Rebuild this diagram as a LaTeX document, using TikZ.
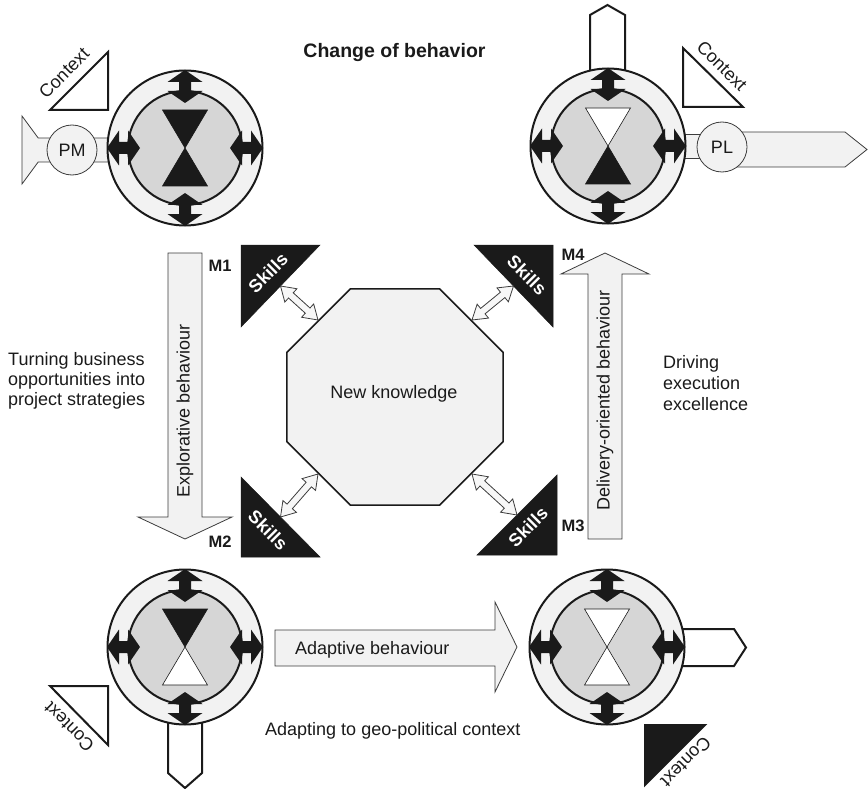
\documentclass[tikz,border=0pt]{standalone}
\usepackage{fontspec}
\setmainfont{Liberation Sans}
\usetikzlibrary{calc,shapes.geometric}
\definecolor{ink}{HTML}{1A1A1A}
\definecolor{pale}{HTML}{F2F2F2}
\definecolor{hub}{HTML}{D6D6D6}

% hollow two-headed link between two named points
\newcommand\hollowlink[2]{%
  \coordinate (h1) at ($(#1)!14pt!(#2)$);
  \coordinate (h2) at ($(#2)!14pt!(#1)$);
  \filldraw[linkstyle] (#1) -- ($(h1)!9pt!90:(#2)$) -- ($(h1)!3.5pt!90:(#2)$)
    -- ($(h2)!3.5pt!-90:(#1)$) -- ($(h2)!9pt!-90:(#1)$) -- (#2)
    -- ($(h2)!9pt!90:(#1)$) -- ($(h2)!3.5pt!90:(#1)$)
    -- ($(h1)!3.5pt!-90:(#2)$) -- ($(h1)!9pt!-90:(#2)$) -- cycle;}

\tikzset{
  pics/wheel/.style 2 args={code={
    \filldraw[fill=pale, draw=ink, line width=2pt] (0,0) circle [radius=77.5pt];
    \filldraw[fill=hub, draw=ink, line width=2pt] (0,0) circle [radius=57pt];
    \filldraw[fill=#1, draw=ink, line width=0.6pt] (-22.5,-38) -- (22.5,-38) -- (0,0) -- cycle;
    \filldraw[fill=#2, draw=ink, line width=0.6pt] (-22.5,38) -- (22.5,38) -- (0,0) -- cycle;
    \foreach \a in {0,90,180,270}{
      \fill[ink, rotate=\a] (45,0) -- (57,-17.5) -- (57,-6) -- (66,-6) -- (66,-17.5)
        -- (78,0) -- (66,17.5) -- (66,6) -- (57,6) -- (57,17.5) -- cycle;}
  }}
}

\begin{document}
\begin{tikzpicture}[x=1pt, y=-1pt,
  txt/.style={font=\fontsize{18}{20}\selectfont, text=ink, inner sep=0pt},
  boldtxt/.style={font=\fontsize{19.5}{22}\selectfont\bfseries, text=ink, inner sep=0pt},
  mtxt/.style={font=\fontsize{16.5}{18}\selectfont\bfseries, text=ink, inner sep=0pt},
  skilltxt/.style={font=\fontsize{18}{20}\selectfont\bfseries, text=white, inner sep=0pt},
  blockarrow/.style={fill=pale, draw=ink!85, line width=0.8pt},
  housearrow/.style={fill=white, draw=ink, line width=2pt},
  ctxtri/.style={fill=white, draw=ink, line width=2pt},
  skilltri/.style={fill=ink, draw=ink, line width=0.5pt},
  linkstyle/.style={fill=pale!60!white, draw=ink!85, line width=0.8pt},
  marker/.style={circle, fill=pale, draw=ink!85, line width=0.8pt, minimum size=50pt,
    inner sep=0pt, font=\fontsize{18}{20}\selectfont, text=ink},
]
\useasboundingbox (0,0) rectangle (868,789);

% title
\node[boldtxt, anchor=base] (title) at (394.5,58) {Change of behavior};

% ---------- top-left: PM wheel ----------
\filldraw[blockarrow] (22,116) -- (38.2,138) -- (140,138) -- (140,162) -- (38.2,162) -- (22,184) -- cycle;
\node[marker] (pm) at (72,150) {PM};
\pic (wtl) at (185,148) {wheel={ink}{ink}};
\filldraw[ctxtri] (50,110) -- (108,110) -- (108,52) -- cycle;
\node[txt, rotate=45] (ctl) at (64,73) {Context};

% ---------- top-right: PL wheel ----------
\filldraw[housearrow] (590,100) -- (590,15) -- (607.5,5) -- (625,15) -- (625,100) -- cycle;
\filldraw[blockarrow] (660,134) rectangle (705,158);
\filldraw[blockarrow] (722,132) -- (845,132) -- (867,149.5) -- (845,167) -- (722,167) -- cycle;
\node[marker] (pl) at (722,147) {PL};
\pic (wtr) at (608,146) {wheel={white}{ink}};
\filldraw[ctxtri] (683,48) -- (683,107) -- (743,107) -- cycle;
\node[txt, rotate=-45] (ctr) at (722,66) {Context};

% ---------- bottom-left wheel ----------
\filldraw[housearrow] (168,700) -- (168,773) -- (185,788) -- (202,773) -- (202,700) -- cycle;
\pic (wbl) at (185,647) {wheel={ink}{white}};
\filldraw[ctxtri] (50,686) -- (108,686) -- (108,745) -- cycle;
\node[txt, rotate=135] (cbl) at (69,727) {Context};

% ---------- bottom-right wheel ----------
\filldraw[housearrow] (650,629) -- (734,629) -- (746,647.5) -- (734,666) -- (650,666) -- cycle;
\pic (wbr) at (607,647) {wheel={white}{white}};
\filldraw[ctxtri, fill=ink] (645,725) -- (705,725) -- (645,785) -- cycle;
\node[txt, rotate=225] (cbr) at (686,762) {Context};

% ---------- behaviour arrows ----------
\filldraw[blockarrow] (168,253) -- (202,253) -- (202,517) -- (232,517) -- (185,539)
  -- (138,517) -- (168,517) -- cycle;
\node[txt, rotate=90] (explo) at (185,411) {Explorative behaviour};

\filldraw[blockarrow] (588,539) -- (588,274) -- (561,274) -- (605,253) -- (649,274)
  -- (622,274) -- (622,539) -- cycle;
\node[txt, rotate=90] (deliv) at (605,400) {Delivery-oriented behaviour};

\filldraw[blockarrow] (275,630) -- (495,630) -- (495,602) -- (517,647) -- (495,692)
  -- (495,666) -- (275,666) -- cycle;
\node[txt, anchor=base west] (adapt) at (295,654.5) {Adaptive behaviour};

% ---------- side captions ----------
\node[txt, align=left, anchor=north west] (turn) at (8,352)
  {Turning business\\opportunities into\\project strategies};
\node[txt, font=\fontsize{18}{21}\selectfont, align=left, anchor=north west] (drive) at (663,355)
  {Driving\\execution\\excellence};
\node[txt, anchor=base west] (geo) at (265,735) {Adapting to geo-political context};

% ---------- milestones ----------
\node[mtxt] (m1) at (220,266) {M1};
\node[mtxt] (m4) at (573,255) {M4};
\node[mtxt] (m2) at (220,542) {M2};
\node[mtxt] (m3) at (573,526) {M3};

% ---------- new knowledge ----------
\node[regular polygon, regular polygon sides=8, minimum size=234pt, inner sep=0pt,
  fill=pale, draw=ink, line width=1.6pt] (oct) at (395,397) {};
\node[txt, anchor=base] (nk) at (394,398) {New knowledge};

% ---------- skills ----------
\filldraw[skilltri] (241,245) -- (320,245) -- (241,327) -- cycle;
\coordinate (sk1) at (280.5,286);
\node[skilltxt, rotate=45] (s1) at (268,273) {Skills};

\filldraw[skilltri] (474,245) -- (553,245) -- (553,327) -- cycle;
\coordinate (sk4) at (513.5,286);
\node[skilltxt, rotate=-45] (s4) at (527,275) {Skills};

\filldraw[skilltri] (241,477) -- (241,557) -- (320,557) -- cycle;
\coordinate (sk2) at (280.5,517);
\node[skilltxt, rotate=-45] (s2) at (268,530) {Skills};

\filldraw[skilltri] (557,475) -- (557,555) -- (477,555) -- cycle;
\coordinate (sk3) at (517,515);
\node[skilltxt, rotate=45] (s3) at (528,527) {Skills};

\hollowlink{sk1}{oct.135}
\hollowlink{sk4}{oct.45}
\hollowlink{sk2}{oct.225}
\hollowlink{sk3}{oct.315}
\end{tikzpicture}
\end{document}
